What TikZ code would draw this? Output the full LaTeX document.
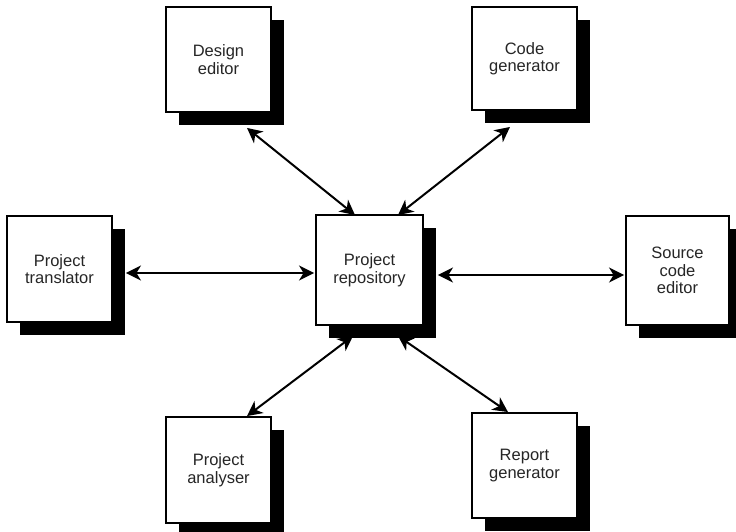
\documentclass[tikz,border=0pt]{standalone}
\usepackage{fontspec}
\setmainfont{Liberation Sans}
\usetikzlibrary{arrows.meta,calc,shadows}
\begin{document}
\begin{tikzpicture}[x=1pt,y=-1pt,
  box/.style={draw=black, line width=1.9pt, fill=white, inner sep=0pt,
    minimum width=105pt, minimum height=105pt, align=center,
    font=\fontsize{16.5}{17.5}\selectfont, text=black!85,
    general shadow={fill=black, shadow xshift=13pt, shadow yshift=-13pt}},
  link/.style={line width=2pt,
    {Stealth[length=15pt,width=15pt,inset=4.5pt]}-{Stealth[length=15pt,width=15pt,inset=4.5pt]}}
]
\useasboundingbox[fill=white] (0,0) rectangle (736,531);

\node[box] (de) at (218.5,59.5) {Design\\editor};
\node[box, minimum height=103pt] (cg) at (524.5,58.5) {Code\\generator};
\node[box, minimum height=106pt] (pt) at (59.5,269) {Project\\translator};
\node[box, minimum width=107pt, minimum height=110pt] (repo) at (369.5,270) {Project\\repository};
\node[box, minimum width=103pt, minimum height=109pt] (sce) at (677.5,270.5) {Source\\code\\editor};
\node[box, minimum height=106pt] (pa) at (218.5,470) {Project\\analyser};
\node[box] (rg) at (524.5,465.5) {Report\\generator};

\draw[link] ($(de.south)+(28.5,15)$) -- ($(repo.north)+(-14.5,1)$);
\draw[link] ($(cg.south)+(-14.5,16)$) -- ($(repo.north)+(28.5,1)$);
\draw[link] ($(pt.east)+(13,4)$) -- ($(repo.west)+(-1,3)$);
\draw[link] ($(repo.east)+(14,5)$) -- ($(sce.west)+(-1,4.5)$);
\draw[link] ($(repo.south)+(-16.5,10)$) -- ($(pa.north)+(28.5,0)$);
\draw[link] ($(repo.south)+(28.5,10)$) -- ($(rg.north)+(-16.5,0)$);
\end{tikzpicture}
\end{document}
